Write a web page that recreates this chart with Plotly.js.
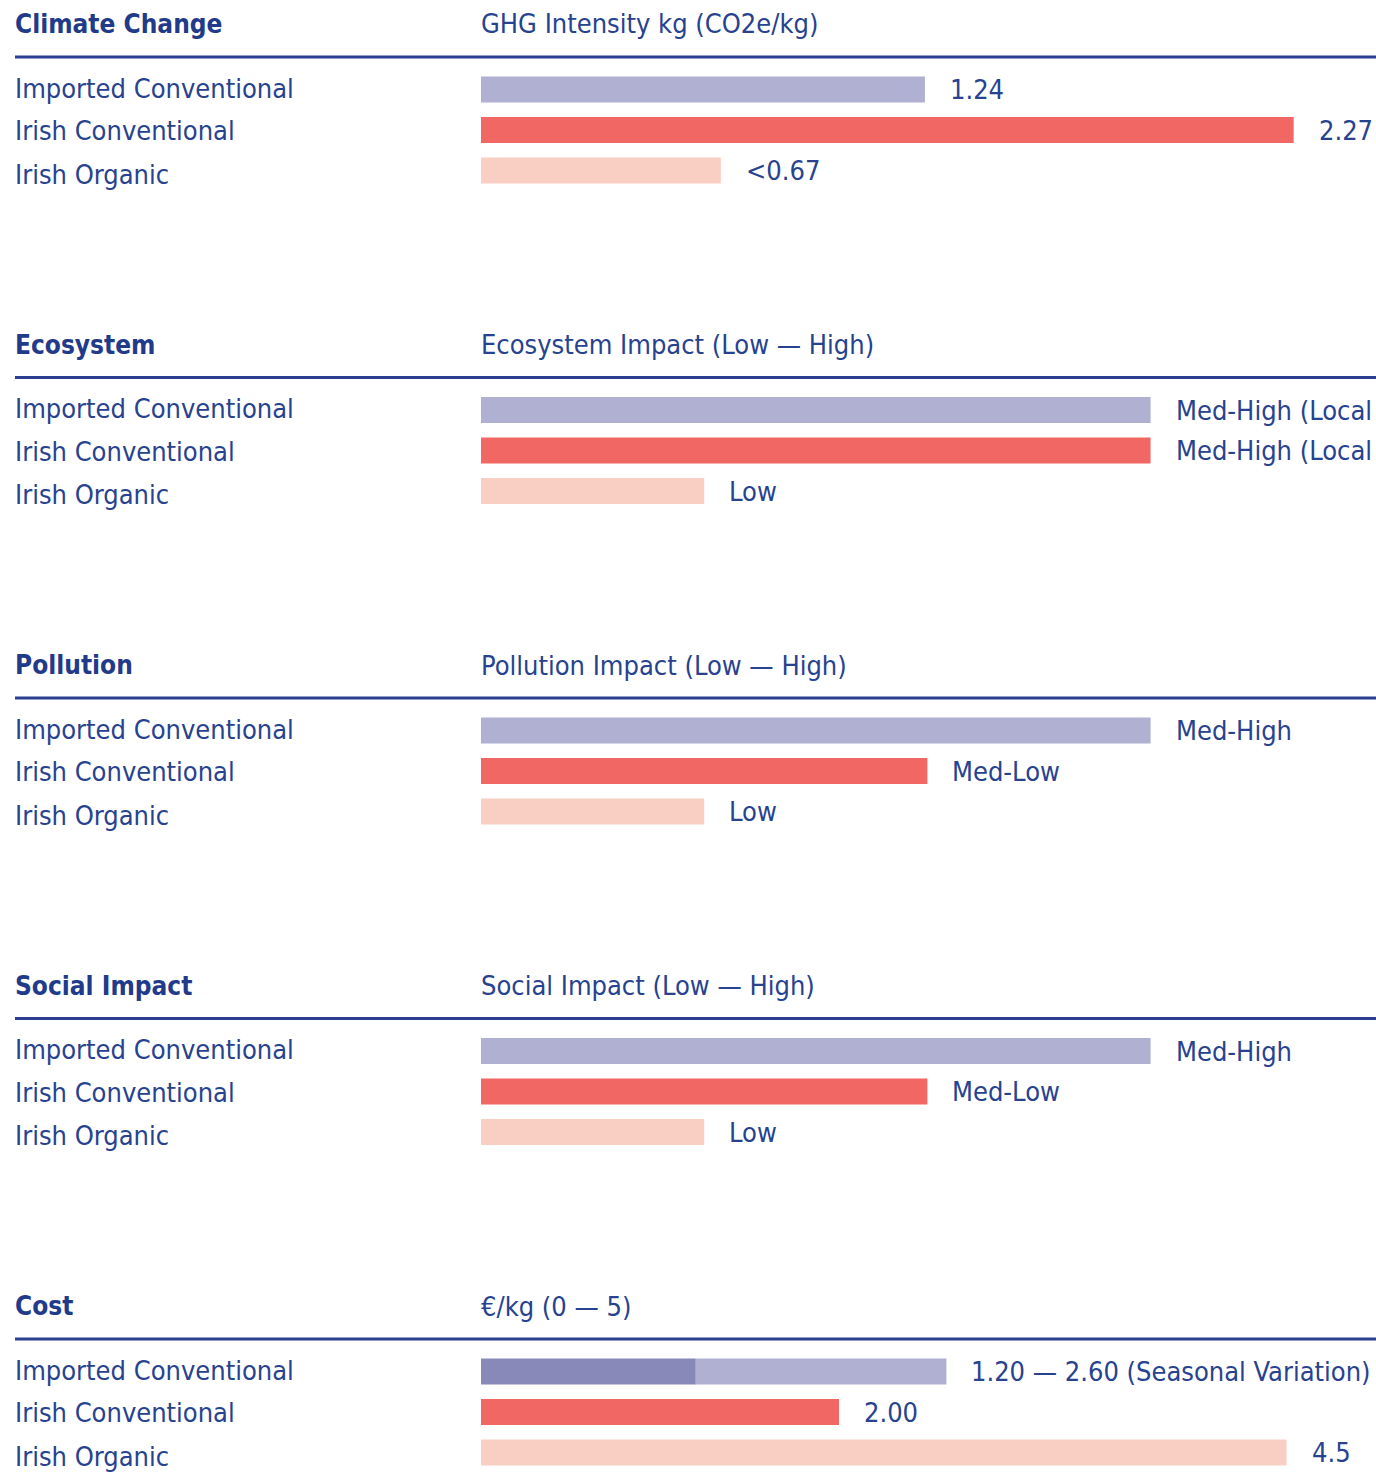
<!DOCTYPE html>
<html>
<head>
<meta charset="utf-8">
<script src="https://cdn.plot.ly/plotly-3.0.1.min.js"></script>
<style>html,body{margin:0;padding:0;background:#fff;}#chart{width:1376px;height:1472px;}</style>
</head>
<body>
<div id="chart"></div>
<script>
// ---------- data ----------
const categories = ['Imported Conventional', 'Irish Conventional', 'Irish Organic'];

const panelTitles = ['Climate Change', 'Ecosystem', 'Pollution', 'Social Impact', 'Cost'];
const panelSubtitles = [
  'GHG Intensity kg (CO2e/kg)',
  'Ecosystem Impact (Low \u2014 High)',
  'Pollution Impact (Low \u2014 High)',
  'Social Impact (Low \u2014 High)',
  '\u20ac/kg (0 \u2014 5)'
];

const ghgValues = [1.24, 2.27, 0.67];
const ghgLabels = ['1.24', '2.27', '<0.67'];

const levelScale = ['Low', 'Med-Low', 'Med-High', 'High'];
const ecosystemLevels = ['Med-High', 'Med-High', 'Low'];
const ecosystemLabels = ['Med-High (Local', 'Med-High (Local', 'Low'];
const pollutionLevels = ['Med-High', 'Med-Low', 'Low'];
const pollutionLabels = ['Med-High', 'Med-Low', 'Low'];
const socialLevels = ['Med-High', 'Med-Low', 'Low'];
const socialLabels = ['Med-High', 'Med-Low', 'Low'];

const costImportedLow = 1.20;
const costImportedHigh = 2.60;
const costValues = [costImportedHigh, 2.00, 4.5];
const costLabels = ['1.20 \u2014 2.60 (Seasonal Variation)', '2.00', '4.5'];

const axisMax = [2.5, 4.01, 4.01, 4.01, 5];

// ---------- style ----------
const W = 1376, H = 1472;
const FONT = '"Liberation Sans Narrow", "DejaVu Sans Condensed", Roboto, sans-serif';
const TXT = '#27428f';
const HEAD = '#213a8a';
const FS = 27, FSB = 26;
const barColors = ['#b0b0d3', '#f06763', '#f9cec3'];
const costDark = '#8889b9';
const catLabelShift = [1.5, -0.5, -3.5];

const toLevel = l => levelScale.indexOf(l) + 1;

const panels = [
  {values: ghgValues, labels: ghgLabels},
  {values: ecosystemLevels.map(toLevel), labels: ecosystemLabels},
  {values: pollutionLevels.map(toLevel), labels: pollutionLabels},
  {values: socialLevels.map(toLevel), labels: socialLabels},
  {values: costValues, labels: costLabels}
];

const px = x => x / W;
const py = y => 1 - y / H;

const traces = [];
const annotations = [];
const shapes = [];
const layout = {
  width: W, height: H,
  margin: {l: 0, r: 0, t: 0, b: 0},
  paper_bgcolor: '#fff', plot_bgcolor: 'rgba(0,0,0,0)',
  showlegend: false,
  barmode: 'overlay',
  font: {family: FONT, color: TXT, size: FS},
  annotations: annotations,
  shapes: shapes
};

panels.forEach((p, i) => {
  const n = i + 1;
  const xa = 'x' + (n === 1 ? '' : n), ya = 'y' + (n === 1 ? '' : n);
  const xKey = 'xaxis' + (n === 1 ? '' : n), yKey = 'yaxis' + (n === 1 ? '' : n);
  const headY = 24 + 320.5 * i;
  const lineY = 57 + 320.5 * i;
  const c0 = headY + 65.5, step = 40.5;
  const topPx = headY + 45, botPx = Math.min(headY + 165, H - 1);
  const rTop = -(c0 - topPx) / step;
  const rBot = (botPx - c0) / step;

  layout[xKey] = {domain: [px(481), 1], range: [0, axisMax[i]], visible: false, fixedrange: true};
  layout[yKey] = {domain: [py(botPx), py(topPx)], range: [rBot, rTop], type: 'category',
                  categoryarray: categories, visible: false, fixedrange: true};

  if (i === 4) {
    traces.push({type: 'bar', orientation: 'h', y: categories, xaxis: xa, yaxis: ya,
      x: [costImportedLow, p.values[1], p.values[2]],
      marker: {color: [costDark, barColors[1], barColors[2]], line: {width: 0}},
      width: 0.64, hoverinfo: 'skip'});
    traces.push({type: 'bar', orientation: 'h', y: [categories[0]], xaxis: xa, yaxis: ya,
      x: [costImportedHigh - costImportedLow], base: [costImportedLow],
      marker: {color: barColors[0], line: {width: 0}}, width: 0.64, hoverinfo: 'skip'});
  } else {
    traces.push({type: 'bar', orientation: 'h', y: categories, x: p.values, xaxis: xa, yaxis: ya,
      marker: {color: barColors, line: {width: 0}}, width: 0.64, hoverinfo: 'skip'});
  }

  annotations.push({xref: 'paper', yref: 'paper', x: px(13), y: py(headY), xanchor: 'left', yanchor: 'middle',
    text: '<b>' + panelTitles[i] + '</b>', showarrow: false, font: {size: FSB, color: HEAD, family: FONT}});
  annotations.push({xref: 'paper', yref: 'paper', x: px(479), y: py(headY), xanchor: 'left', yanchor: 'middle',
    text: panelSubtitles[i], showarrow: false, font: {size: FS, color: TXT, family: FONT}});
  shapes.push({type: 'line', xref: 'paper', yref: 'paper', x0: px(15), x1: 1, y0: py(lineY), y1: py(lineY),
    line: {color: '#2a3f8f', width: 3}});

  categories.forEach((c, k) => {
    annotations.push({xref: 'paper', yref: ya, x: px(13), y: c, xanchor: 'left', yanchor: 'middle',
      yshift: catLabelShift[k],
      text: c, showarrow: false, font: {size: FS, color: TXT, family: FONT}});
    annotations.push({xref: xa, yref: ya, x: p.values[k], y: c, xanchor: 'left', yanchor: 'middle',
      xshift: 23, text: p.labels[k], showarrow: false, font: {size: FS, color: TXT, family: FONT}});
  });
});

Plotly.newPlot('chart', traces, layout, {staticPlot: true, displayModeBar: false});
</script>
</body>
</html>
